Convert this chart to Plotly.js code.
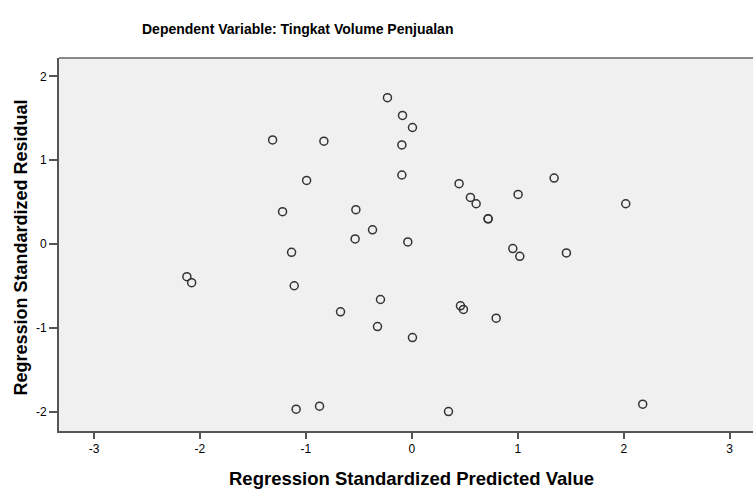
<!DOCTYPE html>
<html>
<head>
<meta charset="utf-8">
<script src="https://cdn.plot.ly/plotly-3.0.1.min.js"></script>
<style>html,body{margin:0;padding:0;background:#fff;}#chart{width:753px;height:489px;}</style>
</head>
<body>
<div id="chart"></div>
<script>
// Regression standardized predicted values (x) and residuals (y)
const predicted = [-1.314, -0.83, -0.993, -1.22, -1.135, -0.23, -0.088, 0.006, -0.094, -0.094,
  0.446, 1.343, 0.553, 0.607, 1.003, 2.019, 0.72, 0.72, -0.528, -0.371,
  -0.535, -0.038, 0.953, 1.019, 1.459, -0.296, -0.673, 0.459, 0.487, 0.796,
  -0.324, 0.006, -0.871, 0.346, 2.179, -2.123, -2.078, -1.11, -1.092];
const residual = [1.243, 1.228, 0.76, 0.386, -0.098, 1.746, 1.535, 1.391, 1.183, 0.824,
  0.721, 0.788, 0.557, 0.481, 0.593, 0.481, 0.302, 0.302, 0.41, 0.17,
  0.062, 0.026, -0.054, -0.146, -0.106, -0.661, -0.808, -0.737, -0.78, -0.884,
  -0.984, -1.116, -1.934, -1.998, -1.91, -0.389, -0.461, -0.497, -1.97];
const xTickVals = [-3, -2, -1, 0, 1, 2, 3];
const xTickText = ["-3", "-2", "-1", "0", "1", "2", "3"];
const yTickVals = [-2, -1, 0, 1, 2];
const yTickText = ["-2", "-1", "0", "1", "2"];
const chartTitle = "Dependent Variable: Tingkat Volume Penjualan";
const xTitle = "Regression Standardized Predicted Value";
const yTitle = "Regression Standardized Residual";

const font = "Liberation Sans, Arial, sans-serif";

const trace = {
  type: "scatter",
  mode: "markers",
  x: predicted,
  y: residual,
  marker: {symbol: "circle-open", size: 8, color: "#333333", line: {width: 1.5, color: "#333333"}},
  hoverinfo: "x+y"
};

const layout = {
  width: 753, height: 489,
  margin: {l: 59, r: 0, t: 58, b: 58, pad: 0},
  paper_bgcolor: "#ffffff",
  plot_bgcolor: "#f0f0f0",
  showlegend: false,
  font: {family: font, size: 12, color: "#000"},
  xaxis: {
    range: [-3.33, 3.22], showgrid: false, zeroline: false,
    showline: true, linecolor: "#555555", linewidth: 2,
    ticks: "outside", ticklen: 6, tickwidth: 2, tickcolor: "#555555",
    tickvals: xTickVals, ticktext: xTickText,
    tickfont: {family: font, size: 12, color: "#000"}
  },
  yaxis: {
    range: [-2.23, 2.22], showgrid: false, zeroline: false,
    showline: true, linecolor: "#555555", linewidth: 2,
    ticks: "outside", ticklen: 8, tickwidth: 2, tickcolor: "#555555",
    tickvals: yTickVals, ticktext: yTickText,
    tickfont: {family: font, size: 12, color: "#000"}
  },
  shapes: [
    {type: "line", xref: "paper", yref: "paper", x0: 0, x1: 1, y0: 1, y1: 1,
     line: {color: "#888888", width: 2}}
  ],
  annotations: [
    {text: chartTitle, xref: "paper", yref: "paper", x: (297 - 59) / 694, y: 1, yshift: 29,
     xanchor: "center", yanchor: "middle", showarrow: false,
     font: {family: font, size: 14, color: "#000", weight: "bold"}},
    {text: xTitle, xref: "paper", yref: "paper", x: (411 - 59) / 694, y: 0, yshift: -47,
     xanchor: "center", yanchor: "middle", showarrow: false,
     font: {family: font, size: 18.5, color: "#000", weight: "bold"}},
    {text: yTitle, xref: "paper", yref: "paper", x: 0, xshift: -39, y: 0.5, yshift: -3,
     xanchor: "center", yanchor: "middle", textangle: -90, showarrow: false,
     font: {family: font, size: 18, color: "#000", weight: "bold"}}
  ]
};

Plotly.newPlot("chart", [trace], layout, {staticPlot: true, displayModeBar: false});
</script>
</body>
</html>
